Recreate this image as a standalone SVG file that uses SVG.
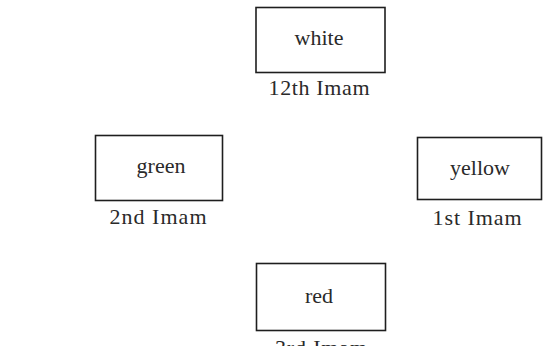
<svg xmlns="http://www.w3.org/2000/svg" width="543" height="346" viewBox="0 0 543 346">
<style>
.box{fill:none;stroke:#1e1e1e;stroke-width:1.6}
.t{font-family:"Liberation Serif","Times New Roman",serif;font-size:22px;fill:#2a2a2a;text-anchor:middle}
</style>
<rect width="543" height="346" fill="#ffffff"/>
<g id="connectors"></g>
<g id="white">
<rect class="box" x="256" y="7.5" width="129" height="65"/>
<text class="t" x="319" y="45">white</text>
<text class="t" x="319" y="95" textLength="101" lengthAdjust="spacing">12th Imam</text>
</g>
<g id="green">
<rect class="box" x="95.5" y="135.5" width="127" height="65"/>
<text class="t" x="161" y="173">green</text>
<text class="t" x="158" y="224" textLength="97" lengthAdjust="spacing">2nd Imam</text>
</g>
<g id="yellow">
<rect class="box" x="417.5" y="137.5" width="124" height="62"/>
<text class="t" x="480" y="175">yellow</text>
<text class="t" x="477" y="225" textLength="89" lengthAdjust="spacing">1st Imam</text>
</g>
<g id="red">
<rect class="box" x="256.5" y="263.5" width="129" height="67"/>
<text class="t" x="319" y="303">red</text>
<text class="t" x="321" y="355" textLength="92" lengthAdjust="spacing">3rd Imam</text>
</g>
</svg>
